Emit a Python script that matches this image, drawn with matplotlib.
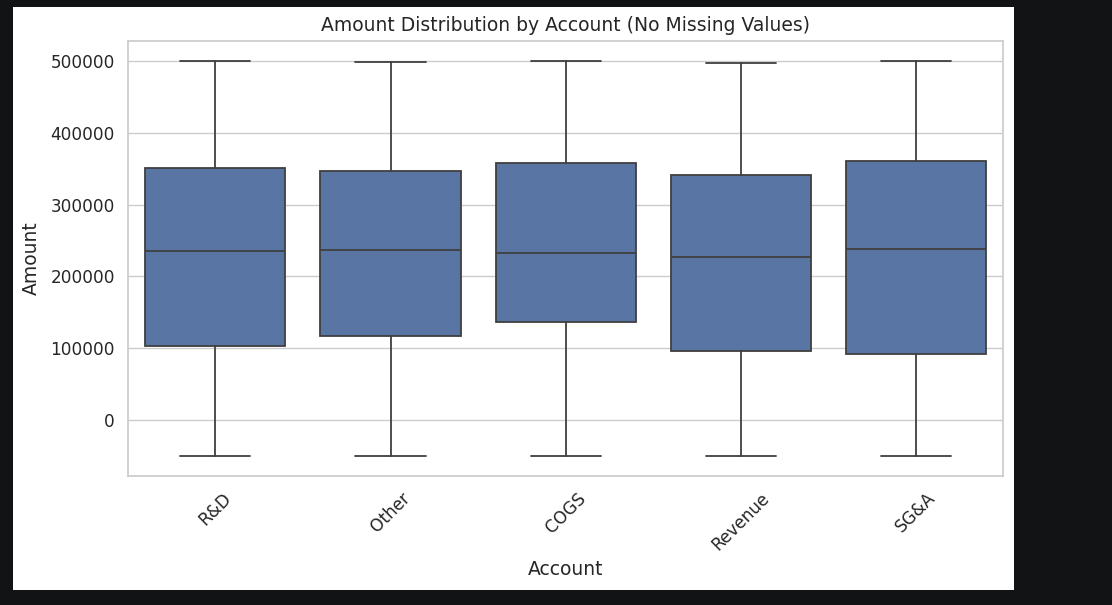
import numpy as np
import matplotlib
matplotlib.use("Agg")
from matplotlib import pyplot as plt
from matplotlib.patches import Rectangle
import seaborn as sns

# box stats
accounts = ["R&D", "Other", "COGS", "Revenue", "SG&A"]
lows = [-50000, -49000, -50000, -50000, -50000]
q1s = [103000, 117000, 136500, 96000, 92000]
medians = [235000, 237000, 233000, 227000, 238000]
q3s = [351000, 347000, 358000, 341000, 361000]
highs = [500000, 499000, 500000, 497000, 500000]

sns.set_theme(style="whitegrid")
plt.rcParams['font.family'] = ['DejaVu Sans']

fig = plt.figure(figsize=(11.12, 6.05), dpi=100, facecolor="#121314")
# white canvas of the screenshot
fig.patches.append(Rectangle((0.0117, 0.0248), 0.9002, 0.9636,
                             transform=fig.transFigure, facecolor="white",
                             edgecolor="none", zorder=-10))
ax = fig.add_axes([0.1151, 0.2132, 0.7869, 0.719])
ax.set_zorder(1)

stats = []
for name, lo, q1, med, q3, hi in zip(accounts, lows, q1s, medians, q3s, highs):
    stats.append({"label": name, "whislo": lo, "q1": q1, "med": med,
                  "q3": q3, "whishi": hi, "fliers": []})

line = dict(color="#3f3f3f", linewidth=1.3)
ax.bxp(stats, positions=np.arange(len(accounts)), widths=0.8,
       patch_artist=True, showfliers=False,
       boxprops=dict(facecolor="#5875a4", edgecolor="#3f3f3f", linewidth=1.3),
       medianprops=line, whiskerprops=line, capprops=line)

ax.set_xlim(-0.5, len(accounts) - 0.5)
ax.set_ylim(-77500, 527500)
ax.set_yticks([0, 100000, 200000, 300000, 400000, 500000])
ax.set_yticklabels(["0", "100000", "200000", "300000", "400000", "500000"])
ax.grid(axis="x", visible=False)
ax.tick_params(labelsize=12.2, colors="#262626")
plt.setp(ax.get_xticklabels(), rotation=45)
for s in ax.spines.values():
    s.set_color("#cccccc")

ax.set_xlabel("Account", fontsize=13.5, color="#262626", labelpad=4.5)
ax.set_ylabel("Amount", fontsize=13.5, color="#262626", labelpad=6.5)
ax.set_title("Amount Distribution by Account (No Missing Values)",
             fontsize=13.5, color="#262626", pad=7.5)

fig.savefig("out.png", dpi=100, facecolor=fig.get_facecolor())
